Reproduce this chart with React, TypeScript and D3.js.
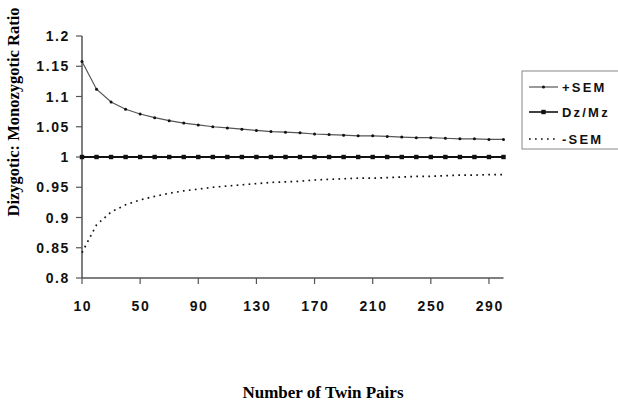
import React from 'react';
import * as d3 from 'd3';

const pairs = [10, 20, 30, 40, 50, 60, 70, 80, 90, 100, 110, 120, 130, 140, 150, 160, 170, 180, 190, 200, 210, 220, 230, 240, 250, 260, 270, 280, 290, 300];
const plusSem = [1.158, 1.112, 1.091, 1.079, 1.071, 1.065, 1.06, 1.056, 1.053, 1.05, 1.048, 1.046, 1.044, 1.042, 1.041, 1.04, 1.038, 1.037, 1.036, 1.035, 1.035, 1.034, 1.033, 1.032, 1.032, 1.031, 1.03, 1.03, 1.029, 1.029];
const ratio = [1, 1, 1, 1, 1, 1, 1, 1, 1, 1, 1, 1, 1, 1, 1, 1, 1, 1, 1, 1, 1, 1, 1, 1, 1, 1, 1, 1, 1, 1];
const minusSem = [0.842, 0.888, 0.909, 0.921, 0.929, 0.935, 0.94, 0.944, 0.947, 0.95, 0.952, 0.954, 0.956, 0.958, 0.959, 0.96, 0.962, 0.963, 0.964, 0.965, 0.965, 0.966, 0.967, 0.968, 0.968, 0.969, 0.97, 0.97, 0.971, 0.971];
const xTicks = [10, 50, 90, 130, 170, 210, 250, 290];
const yTicks = [0.8, 0.85, 0.9, 0.95, 1, 1.05, 1.1, 1.15, 1.2];
const legendLabels = ['+SEM', 'Dz/Mz', '-SEM'];

const W = 618;
const H = 401;
const left = 82;
const right = 503.5;
const top = 36;
const bottom = 278;

export default function App() {
  const x = d3.scaleLinear().domain([10, 300]).range([left, right]);
  const y = d3.scaleLinear().domain([0.8, 1.2]).range([bottom, top]);

  const line = d3.line<[number, number]>()
    .x(d => x(d[0]))
    .y(d => y(d[1]));

  const upper = pairs.map((p, i) => [p, plusSem[i]] as [number, number]);
  const mid = pairs.map((p, i) => [p, ratio[i]] as [number, number]);
  const lower = pairs.map((p, i) => [p, minusSem[i]] as [number, number]);

  const tickFont = {
    fontFamily: 'Liberation Sans, Arial, sans-serif',
    fontWeight: 'bold' as const,
    fontSize: 14,
    letterSpacing: 1.6,
    fill: '#111',
  };

  const legY = [87, 112, 139];

  return (
    <svg width={W} height={H} style={{ position: 'absolute', left: 0, top: 0 }}>
      <rect width={W} height={H} fill="#fff" />

      {/* y axis */}
      <line x1={left} x2={left} y1={top} y2={bottom} stroke="#555" strokeWidth={1.5} />
      {yTicks.map(t => (
        <g key={t}>
          <line x1={left - 6} x2={left} y1={y(t)} y2={y(t)} stroke="#555" strokeWidth={1.2} />
          <text x={70} y={y(t) + 5} textAnchor="end" {...tickFont}>{String(t)}</text>
        </g>
      ))}

      {/* x axis */}
      <line x1={left} x2={right} y1={bottom} y2={bottom} stroke="#555" strokeWidth={1.5} />
      {xTicks.map(t => (
        <g key={t}>
          <line x1={x(t)} x2={x(t)} y1={bottom} y2={bottom + 6} stroke="#555" strokeWidth={1.2} />
          <text x={x(t) + 0.8} y={311} textAnchor="middle" {...tickFont}>{t}</text>
        </g>
      ))}

      {/* series */}
      <path d={line(lower) || ''} fill="none" stroke="#111" strokeWidth={1.7} strokeDasharray="1.7,4.3" />
      <path d={line(upper) || ''} fill="none" stroke="#555" strokeWidth={1.2} />
      {upper.map((d, i) => (
        <circle key={'u' + i} cx={x(d[0])} cy={y(d[1])} r={1.5} fill="#111" />
      ))}
      <path d={line(mid) || ''} fill="none" stroke="#111" strokeWidth={2} />
      {mid.map((d, i) => (
        <rect key={'m' + i} x={x(d[0]) - 2.2} y={y(d[1]) - 2.2} width={4.4} height={4.4} fill="#111" />
      ))}

      {/* legend */}
      <rect x={522} y={71} width={110} height={78} fill="#fff" stroke="#888" strokeWidth={1} />
      <line x1={529} x2={558} y1={legY[0]} y2={legY[0]} stroke="#555" strokeWidth={1.2} />
      <circle cx={543.5} cy={legY[0]} r={1.5} fill="#111" />
      <line x1={529} x2={558} y1={legY[1]} y2={legY[1]} stroke="#111" strokeWidth={1.6} />
      <rect x={541.3} y={legY[1] - 2.2} width={4.4} height={4.4} fill="#111" />
      <line x1={529} x2={558} y1={legY[2]} y2={legY[2]} stroke="#111" strokeWidth={1.5} strokeDasharray="1.7,4.3" />
      {legendLabels.map((l, i) => (
        <text key={l} x={562} y={legY[i] + 4.5} fill="#111" fontFamily="Liberation Sans, Arial, sans-serif" fontWeight="bold" fontSize={13} letterSpacing={2.2}>
          {l}
        </text>
      ))}

      {/* titles */}
      <text
        transform={`translate(19, 112) rotate(-90)`}
        textAnchor="middle"
        fontFamily="Liberation Serif, Times New Roman, serif"
        fontWeight="bold"
        fontSize={16.5}
      >
        Dizygotic: Monozygotic Ratio
      </text>
      <text x={323} y={398} textAnchor="middle" fontFamily="Liberation Serif, Times New Roman, serif" fontWeight="bold" fontSize={17}>
        Number of Twin Pairs
      </text>
    </svg>
  );
}
